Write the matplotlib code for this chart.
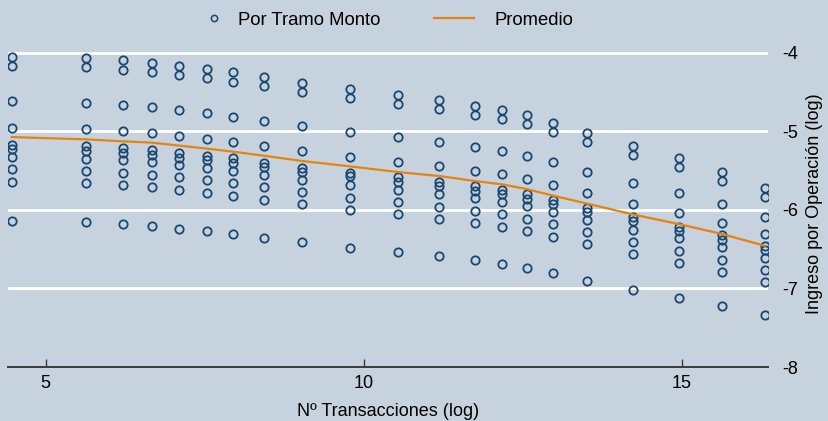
import matplotlib
matplotlib.use("Agg")
import matplotlib.pyplot as plt
from matplotlib.lines import Line2D

plt.rcParams['font.family'] = ['Liberation Sans', 'DejaVu Sans']
plt.rcParams['axes.unicode_minus'] = False

# Nº de transacciones (log) por grupo
transacciones = [4.469, 5.632, 6.214, 6.670, 7.104, 7.535, 7.953, 8.430, 9.038, 9.788,
                 10.543, 11.192, 11.757, 12.182, 12.566, 12.985, 13.519, 14.232,
                 14.961, 15.642, 16.308]

# Ingreso por operación (log) para cada tramo de monto
tramo_01 = [-4.048, -4.070, -4.096, -4.125, -4.163, -4.206, -4.248, -4.308, -4.385, -4.465,
            -4.532, -4.601, -4.673, -4.724, -4.796, -4.889, -5.017, -5.182, -5.344, -5.518, -5.722]
tramo_02 = [-4.163, -4.185, -4.214, -4.245, -4.283, -4.321, -4.367, -4.427, -4.499, -4.580,
            -4.652, -4.720, -4.787, -4.843, -4.911, -5.004, -5.136, -5.297, -5.459, -5.633, -5.837]
tramo_03 = [-4.618, -4.639, -4.665, -4.694, -4.729, -4.767, -4.813, -4.864, -4.936, -5.009,
            -5.076, -5.136, -5.195, -5.246, -5.310, -5.395, -5.518, -5.654, -5.790, -5.930, -6.092]
tramo_04 = [-4.953, -4.975, -5.000, -5.025, -5.064, -5.098, -5.136, -5.191, -5.255, -5.327,
            -5.390, -5.446, -5.501, -5.548, -5.611, -5.684, -5.790, -5.921, -6.041, -6.166, -6.303]
tramo_05 = [-5.169, -5.187, -5.208, -5.242, -5.271, -5.310, -5.344, -5.399, -5.462, -5.531,
            -5.586, -5.646, -5.697, -5.748, -5.803, -5.870, -5.972, -6.092, -6.223, -6.325, -6.465]
tramo_06 = [-5.229, -5.246, -5.271, -5.302, -5.335, -5.369, -5.408, -5.459, -5.522, -5.573,
            -5.646, -5.701, -5.755, -5.799, -5.862, -5.926, -6.025, -6.143, -6.270, -6.380, -6.510]
tramo_07 = [-5.327, -5.348, -5.369, -5.395, -5.429, -5.468, -5.506, -5.557, -5.620, -5.688,
            -5.748, -5.803, -5.854, -5.901, -5.955, -6.028, -6.125, -6.252, -6.363, -6.478, -6.609]
tramo_08 = [-5.484, -5.506, -5.531, -5.557, -5.586, -5.624, -5.662, -5.713, -5.777, -5.845,
            -5.904, -5.959, -6.015, -6.057, -6.115, -6.185, -6.287, -6.410, -6.522, -6.637, -6.762]
tramo_09 = [-5.641, -5.662, -5.684, -5.710, -5.743, -5.781, -5.819, -5.870, -5.930, -6.003,
            -6.057, -6.117, -6.168, -6.214, -6.268, -6.341, -6.439, -6.558, -6.673, -6.790, -6.913]
tramo_10 = [-6.138, -6.155, -6.176, -6.206, -6.239, -6.274, -6.308, -6.354, -6.414, -6.490,
            -6.541, -6.592, -6.643, -6.694, -6.741, -6.809, -6.902, -7.022, -7.124, -7.229, -7.344]

# Promedio por grupo
promedio = [-5.073, -5.102, -5.127, -5.144, -5.182, -5.220, -5.259, -5.310, -5.378, -5.446,
            -5.518, -5.569, -5.633, -5.675, -5.735, -5.819, -5.921, -6.057, -6.181, -6.308, -6.456]

x_ticks = [5, 10, 15]
y_ticks = [-8, -7, -6, -5, -4]

tramos = [tramo_01, tramo_02, tramo_03, tramo_04, tramo_05,
          tramo_06, tramo_07, tramo_08, tramo_09, tramo_10]

BG = '#C6D3DF'
NAVY = '#1A476F'
ORANGE = '#E8820E'

fig = plt.figure(figsize=(8.29, 4.21), dpi=100, facecolor=BG)
ax = fig.add_axes([8 / 829, 54 / 421, 760 / 829, 326 / 421])
ax.set_facecolor(BG)

for serie in tramos:
    ax.plot(transacciones, serie, linestyle='none', marker='o', markersize=6.0,
            markerfacecolor='none', markeredgecolor=NAVY, markeredgewidth=1.3, zorder=3)

ax.plot(transacciones, promedio, color=ORANGE, linewidth=1.6, zorder=4)

ax.set_xlim(4.41, 16.36)
ax.set_ylim(-8, -3.85)

ax.set_xticks(x_ticks)
ax.set_yticks(y_ticks)
ax.yaxis.tick_right()
ax.yaxis.set_label_position('right')

for y in [-7, -6, -5, -4]:
    ax.axhline(y, color='white', linewidth=2.0, zorder=1)

for side in ['top', 'left', 'right']:
    ax.spines[side].set_visible(False)
ax.spines['bottom'].set_color('#3A3A3A')
ax.spines['bottom'].set_linewidth(1.4)

ax.tick_params(axis='x', direction='in', length=6, width=1.0, color='#3A3A3A',
               labelsize=13, pad=6, labelcolor='black')
ax.tick_params(axis='y', length=0, labelsize=13, pad=10, labelcolor='black')

ax.set_xlabel('Nº Transacciones (log)', fontsize=13, labelpad=8)
ax.set_ylabel('Ingreso por Operación (log)', fontsize=13, labelpad=6)

# Leyenda superior: dos claves con distinto largo de símbolo
marker_key = Line2D([], [], linestyle='none', marker='o', markersize=4.5, markerfacecolor='none',
                    markeredgecolor=NAVY, markeredgewidth=1.1, label='Por Tramo Monto')
line_key = Line2D([], [], color=ORANGE, linewidth=1.6, label='Promedio')

fig.legend(handles=[marker_key], loc='center left', bbox_to_anchor=(0.247, 0.952),
           frameon=False, fontsize=13.3, handlelength=1.0, handletextpad=0.8,
           borderpad=0, borderaxespad=0)
fig.legend(handles=[line_key], loc='center left', bbox_to_anchor=(0.523, 0.952),
           frameon=False, fontsize=13.3, handlelength=2.2, handletextpad=1.1,
           borderpad=0, borderaxespad=0)

fig.savefig('out.png', dpi=100, facecolor=BG)
